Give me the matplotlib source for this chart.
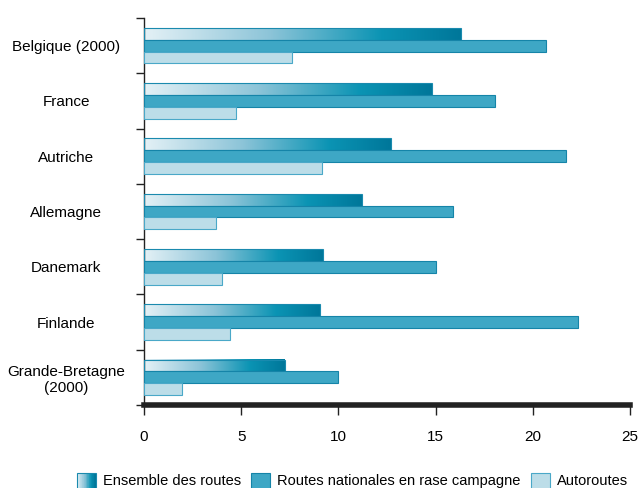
import matplotlib
matplotlib.use("Agg")
import matplotlib.pyplot as plt
import numpy as np
from matplotlib.colors import LinearSegmentedColormap
from matplotlib.patches import Rectangle, Patch
from matplotlib.legend_handler import HandlerBase

plt.rcParams['font.family'] = ['Liberation Sans', 'DejaVu Sans']

countries = ["Belgique (2000)", "France", "Autriche", "Allemagne", "Danemark", "Finlande", "Grande-Bretagne\n(2000)"]
ensemble = [16.3, 14.8, 12.7, 11.2, 9.2, 9.05, 7.25]
nationales = [20.7, 18.05, 21.7, 15.9, 15.0, 22.3, 10.0]
autoroutes = [7.6, 4.75, 9.15, 3.7, 4.0, 4.4, 1.95]
xticks = [0, 5, 10, 15, 20, 25]
series_labels = ["Ensemble des routes", "Routes nationales en rase campagne", "Autoroutes"]

grad_cmap = LinearSegmentedColormap.from_list(
    "grad", [(0, "#e4f1f6"), (0.4, "#8cc4d8"), (0.75, "#0b94b4"), (1.0, "#00779a")])
c_nat = "#3ea7c5"
e_nat = "#1584a8"
c_aut = "#bcdde8"
e_aut = "#4aa8c8"

fig = plt.figure(figsize=(6.41, 4.88), dpi=100)
ax = fig.add_axes([144/641, 1-405/488, (630-144)/641, (405-18)/488])

y = np.arange(len(countries))
h = 0.215

bars_e = ax.barh(y - h, ensemble, height=h, color="none", edgecolor="#1a8aae", linewidth=0.8, zorder=3)
grad = np.linspace(0, 1, 256).reshape(1, -1)
for b in bars_e:
    x0, y0 = b.get_x(), b.get_y()
    w, hh = b.get_width(), b.get_height()
    ax.imshow(grad, cmap=grad_cmap, aspect='auto', extent=[x0, x0 + w, y0 + hh, y0], zorder=2, interpolation='bilinear')
ax.barh(y, nationales, height=h, color=c_nat, edgecolor=e_nat, linewidth=0.8, zorder=3)
ax.barh(y + h, autoroutes, height=h, color=c_aut, edgecolor=e_aut, linewidth=0.8, zorder=3)

ax.set_xlim(0, 25)
ax.set_ylim(len(countries) - 0.5, -0.5)
ax.set_xticks(xticks)
ax.set_xticklabels([str(t) for t in xticks], fontsize=11)
ax.set_yticks(y)
ax.set_yticklabels(countries, fontsize=11, ha='center')
ax.tick_params(axis='y', length=0, pad=56)
ax.set_yticks(np.arange(-0.5, len(countries), 1), minor=True)
ax.tick_params(axis='y', which='minor', length=6, width=1, color='#222222')
ax.tick_params(axis='x', length=7, width=1, color='#222222', pad=11)

for s in ['top', 'right']:
    ax.spines[s].set_visible(False)
ax.spines['left'].set_color('#222222')
ax.spines['left'].set_linewidth(1)
ax.spines['bottom'].set_color('#222222')
ax.spines['bottom'].set_linewidth(4)
ax.set_aspect('auto')
ax.set_xlim(0, 25)
ax.set_ylim(len(countries) - 0.5, -0.5)


class GradHandler(HandlerBase):
    def create_artists(self, legend, orig_handle, xdescent, ydescent, width, height, fontsize, trans):
        arts = []
        n = 30
        for i in range(n):
            r = Rectangle((-xdescent + width * i / n, -ydescent), width / n + 0.3, height,
                          facecolor=grad_cmap(i / (n - 1)), edgecolor='none', transform=trans)
            arts.append(r)
        arts.append(Rectangle((-xdescent, -ydescent), width, height, facecolor='none',
                              edgecolor='#1a8aae', linewidth=0.8, transform=trans))
        return arts


h1 = Patch(facecolor='#3ea7c5')
h2 = Patch(facecolor=c_nat, edgecolor=e_nat, linewidth=0.8)
h3 = Patch(facecolor=c_aut, edgecolor=e_aut, linewidth=0.8)
fig.legend([h1, h2, h3], series_labels, handler_map={h1: GradHandler()},
           loc='lower center', bbox_to_anchor=(0.55, -0.025), ncol=3, frameon=False,
           fontsize=10.5, handlelength=1.3, handleheight=1.3, columnspacing=0.7, handletextpad=0.5,
           borderpad=0.3)

fig.savefig("out.png", dpi=100)
